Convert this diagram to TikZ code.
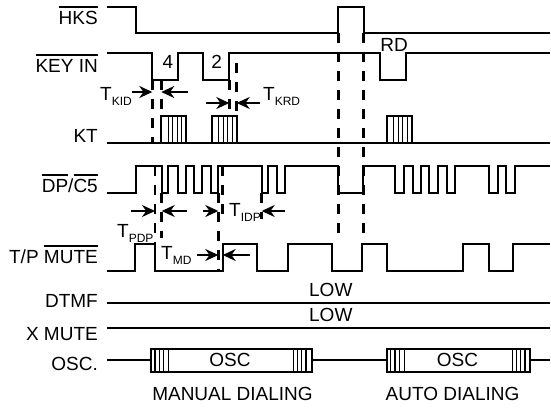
\documentclass[tikz,border=0pt]{standalone}
\usepackage{fontspec}
\setmainfont{Liberation Sans}
\usetikzlibrary{arrows.meta}
\newcommand\ovl[1]{\vbox{\hrule height 1.3pt\kern 3.2pt\hbox{#1}}}
\newcommand\subtxt[1]{\raisebox{-5pt}{\fontsize{12}{12}\selectfont #1}}
\tikzset{
  sig/.style={line width=2pt, line join=miter},
  dsh/.style={line width=2.8pt, dash pattern=on 10pt off 9pt},
  dim/.style={line width=2pt, -{Stealth[length=13pt,width=12pt]}},
  lbl/.style={anchor=base east, inner sep=0pt},
  txt/.style={anchor=base, inner sep=0pt},
  tl/.style={anchor=base west, inner sep=0pt},
  hl/.style={line width=1.3pt}
}
\begin{document}
\begin{tikzpicture}[x=1pt,y=-1pt,font=\fontsize{19}{22}\selectfont]
\useasboundingbox (0,0) rectangle (551,408);
% labels
\node[lbl] (lhks) at (98,24) {\ovl{HKS}};
\node[lbl] (lkey) at (98,72) {\ovl{KEY IN}};
\node[lbl] (lkt) at (98,142) {KT};
\node[lbl] (ldp) at (98,192) {\ovl{DP}/\ovl{C5}};
\node[lbl] (ltp) at (98,263) {T/P \ovl{MUTE}};
\node[lbl] (ldtmf) at (98,307) {DTMF};
\node[lbl] (lxm) at (98,340) {X MUTE};
\node[lbl] (losc) at (98,370) {OSC.};
% HKS
\draw[sig] (107,6.5) -- (136,6.5) -- (136,33.3) -- (338.3,33.3) -- (338.3,6.5) -- (364,6.5) -- (364,33.3) -- (550,33.3);
% KEY IN
\draw[sig] (107,53.3) -- (152.3,53.3) -- (152.3,80) -- (178.3,80) -- (178.3,53.3) -- (203.3,53.3) -- (203.3,80) -- (229.3,80) -- (229.3,53.3) -- (380,53.3) -- (380,80) -- (405.7,80) -- (405.7,53.3) -- (550,53.3);
\node[txt] (k4) at (168,68.3) {4};
\node[txt] (k2) at (216.7,68.3) {2};
\node[txt] (krd) at (394,51.7) {RD};
% KT
\draw[sig] (107,143.3) -- (550,143.3);
\foreach \bx in {161.3,211.7,386.7}{
  \draw[sig] (\bx,143.3) -- (\bx,116) -- (\bx+25,116) -- (\bx+25,143.3);
  \foreach \d in {7,11.5,16,20.5} \draw[hl] (\bx+\d,116) -- (\bx+\d,143.3);
}
% DP/C5
\draw[sig] (107,192.7) -- (135.5,192.7) -- (135.5,166) -- (161.7,166) -- (161.7,192.7) -- (168.3,192.7) -- (168.3,166) -- (178.3,166) -- (178.3,192.7) -- (186,192.7) -- (186,166) -- (194.3,166) -- (194.3,192.7) -- (201.7,192.7) -- (201.7,166) -- (211,166) -- (211,192.7) -- (218.3,192.7) -- (218.3,166) -- (261.7,166) -- (261.7,192.7) -- (268.3,192.7) -- (268.3,166) -- (276.7,166) -- (276.7,192.7) -- (285,192.7) -- (285,166) -- (338.3,166) -- (338.3,192.7) -- (363.3,192.7) -- (363.3,166) -- (395,166) -- (395,192.7) -- (404,192.7) -- (404,166) -- (412.7,166) -- (412.7,192.7) -- (421,192.7) -- (421,166) -- (429,166) -- (429,192.7) -- (438,192.7) -- (438,166) -- (446.7,166) -- (446.7,192.7) -- (455,192.7) -- (455,166) -- (489.3,166) -- (489.3,192.7) -- (497.7,192.7) -- (497.7,166) -- (506,166) -- (506,192.7) -- (514.7,192.7) -- (514.7,166) -- (550,166);
% T/P MUTE
\draw[sig] (107,271) -- (135,271) -- (135,244.3) -- (155,244.3) -- (155,271) -- (222.7,271) -- (222.7,244.3) -- (256.7,244.3) -- (256.7,271) -- (288.3,271) -- (288.3,244.3) -- (331.7,244.3) -- (331.7,271) -- (362.3,271) -- (362.3,244.3) -- (386.7,244.3) -- (386.7,271) -- (463.3,271) -- (463.3,244.3) -- (489,244.3) -- (489,271) -- (513.3,271) -- (513.3,244.3) -- (550,244.3);
% DTMF, X MUTE
\draw[sig] (107,302.7) -- (550,302.7);
\draw[sig] (107,328.3) -- (550,328.3);
\node[txt] (low1) at (330.8,296) {LOW};
\node[txt] (low2) at (330.8,321.7) {LOW};
% OSC
\draw[sig] (107,360.3) -- (150.7,360.3);
\draw[sig] (150.7,349) rectangle (311.7,371.7);
\foreach \x in {155,159.3,163.3,168.3,293.3,297.3,301.7,306} \draw[hl] (\x,349) -- (\x,371.7);
\draw[sig] (311.7,360.3) -- (386.7,360.3);
\draw[sig] (386.7,349) rectangle (530,371.7);
\foreach \x in {390.7,395,399.3,404.3,512.3,516.7,520.7,525} \draw[hl] (\x,349) -- (\x,371.7);
\draw[sig] (530,360.3) -- (550,360.3);
\node[txt] (osc1) at (230,366.7) {OSC};
\node[txt] (osc2) at (457.5,366.7) {OSC};
\node[txt] (man) at (232.5,400) {MANUAL DIALING};
\node[txt] (aut) at (452.5,400) {AUTO DIALING};
% dashed lines
\draw[dsh] (152.3,80) -- (152.3,143.3);
\draw[dsh] (161.3,80) -- (161.3,116);
\draw[dsh] (229.3,80) -- (229.3,116);
\draw[dsh] (236.7,63) -- (236.7,116);
\draw[dsh] (155,166) -- (155,244.3);
\draw[dsh] (161.7,192.7) -- (161.7,238);
\draw[dsh] (218.3,192.7) -- (218.3,271);
\draw[dsh] (222.7,166) -- (222.7,221);
\draw[dsh] (261.7,192.7) -- (261.7,219);
\draw[dsh] (338.3,33.3) -- (338.3,235);
\draw[dsh] (363.3,33.3) -- (363.3,240);
% timing arrows
\draw[dim] (132,92) -- (152.3,92);
\draw[dim] (188,92) -- (161.3,92);
\node[tl] (tkid) at (100,100) {T\subtxt{KID}};
\draw[dim] (206,103) -- (229.3,103);
\draw[dim] (260,103) -- (236.7,103);
\node[tl] (tkrd) at (263,100) {T\subtxt{KRD}};
\draw[dim] (131,211) -- (155,211);
\draw[dim] (187,211) -- (161.7,211);
\node[tl] (tpdp) at (117,237) {T\subtxt{PDP}};
\draw[dim] (203,211) -- (218.3,211);
\draw[dim] (285,211) -- (261.7,211);
\node[tl] (tidp) at (229,216) {T\subtxt{IDP}};
\draw[dim] (196.7,255) -- (218.3,255);
\draw[dim] (250,255) -- (222.7,255);
\node[tl] (tmd) at (161,259) {T\subtxt{MD}};
\end{tikzpicture}
\end{document}
